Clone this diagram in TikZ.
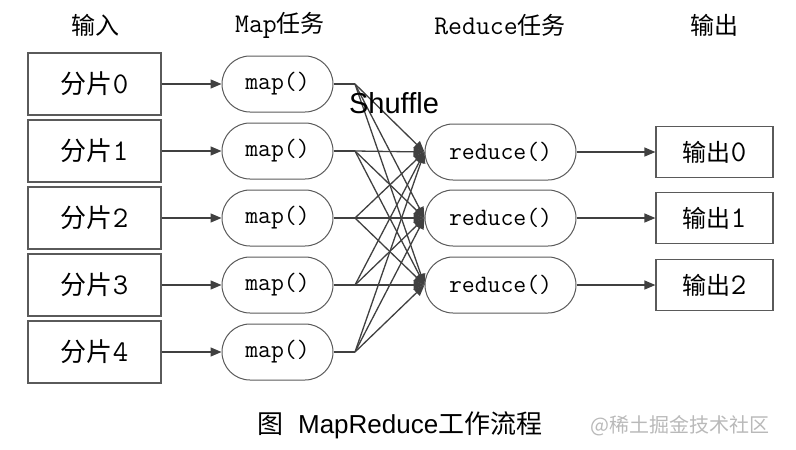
\documentclass[tikz,border=0pt]{standalone}
\usepackage{fontspec}
\setmainfont{Liberation Sans}
\newfontfamily\zhfont{Noto Sans CJK SC}
\definecolor{linegray}{RGB}{64,64,64}
\definecolor{boxgray}{RGB}{90,90,90}
\definecolor{markgray}{RGB}{185,185,185}
\usetikzlibrary{arrows.meta,positioning}

\newcommand\digit[1]{{\ttfamily\fontsize{30}{30}\selectfont #1}}

\begin{document}
\begin{tikzpicture}[x=1pt,y=-1pt,
  inbox/.style={draw=boxgray,line width=1.2pt,minimum width=133pt,minimum height=62pt,inner sep=0pt,font=\fontsize{26}{28}\selectfont},
  mapbox/.style={draw=boxgray,line width=1pt,rounded corners=28pt,minimum width=111pt,minimum height=56pt,inner sep=0pt,font=\ttfamily\fontsize{25}{27}\selectfont},
  redbox/.style={mapbox,minimum width=151pt},
  outbox/.style={inbox,minimum width=117pt,minimum height=51pt,font=\fontsize{24}{26}\selectfont},
  head/.style={font=\fontsize{24}{26}\selectfont},
  arr/.style={-{Triangle[length=11pt,width=9pt]},line width=1.3pt,linegray},
  plain/.style={line width=1.3pt,linegray}]
\useasboundingbox (0,0) rectangle (796,450);
% column titles
\node[head] (hin) at (95,25) {\zhfont 输入};
\node[head] (hmap) at (280,25) {{\ttfamily\fontsize{27}{27}\selectfont Map}{\zhfont 任务}};
\node[head] (hred) at (500,25) {{\ttfamily\fontsize{27}{27}\selectfont Reduce}{\zhfont 任务}};
\node[head] (hout) at (714,25) {\zhfont 输出};
% input splits
\node[inbox] (in0) at (94.5,84) {{\zhfont 分片}\digit{0}};
\node[inbox] (in1) at (94.5,151) {{\zhfont 分片}\digit{1}};
\node[inbox] (in2) at (94.5,218) {{\zhfont 分片}\digit{2}};
\node[inbox] (in3) at (94.5,285) {{\zhfont 分片}\digit{3}};
\node[inbox] (in4) at (94.5,352) {{\zhfont 分片}\digit{4}};
% map tasks
\node[mapbox] (map0) at (277.5,84) {map()};
\node[mapbox] (map1) at (277.5,151) {map()};
\node[mapbox] (map2) at (277.5,218) {map()};
\node[mapbox] (map3) at (277.5,285) {map()};
\node[mapbox] (map4) at (277.5,352) {map()};
% reduce tasks
\node[redbox] (red0) at (500.5,152) {reduce()};
\node[redbox] (red1) at (500.5,218) {reduce()};
\node[redbox] (red2) at (500.5,285) {reduce()};
% outputs
\node[outbox] (out0) at (714.5,152) {{\zhfont 输出}\digit{0}};
\node[outbox] (out1) at (714.5,218) {{\zhfont 输出}\digit{1}};
\node[outbox] (out2) at (714.5,285) {{\zhfont 输出}\digit{2}};
% shuffle fan points
\coordinate (s0) at (355,84);
\coordinate (s1) at (355,151);
\coordinate (s2) at (355,218);
\coordinate (s3) at (355,285);
\coordinate (s4) at (355,352);
\draw[arr] (in0)--(map0);
\draw[arr] (in1)--(map1);
\draw[arr] (in2)--(map2);
\draw[arr] (in3)--(map3);
\draw[arr] (in4)--(map4);
\draw[plain] (map0.east)--(s0) (map1.east)--(s1) (map2.east)--(s2) (map3.east)--(s3) (map4.east)--(s4);
\path (s0) edge[arr] (red0.west) edge[arr] (red1.west) edge[arr] (red2.west);
\path (s1) edge[arr] (red0.west) edge[arr] (red1.west) edge[arr] (red2.west);
\path (s2) edge[arr] (red0.west) edge[arr] (red1.west) edge[arr] (red2.west);
\path (s3) edge[arr] (red0.west) edge[arr] (red1.west) edge[arr] (red2.west);
\path (s4) edge[arr] (red0.west) edge[arr] (red1.west) edge[arr] (red2.west);
\draw[arr] (red0)--(out0);
\draw[arr] (red1)--(out1);
\draw[arr] (red2)--(out2);
\node[font=\fontsize{29}{31}\selectfont] (shuf) at (394,103) {Shuffle};
% caption
\node[font=\fontsize{26}{28}\selectfont] (cap) at (400,425) {{\zhfont 图}\ \ MapReduce{\zhfont 工作流程}};
\node[font=\fontsize{20}{22}\selectfont,markgray] (mark) at (680,426) {\zhfont @稀土掘金技术社区};
\end{tikzpicture}
\end{document}
